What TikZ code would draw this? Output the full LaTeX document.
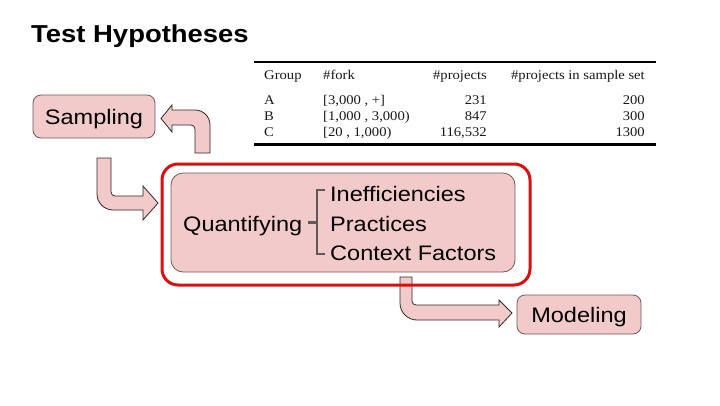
\documentclass[tikz,border=0pt]{standalone}
\usepackage{fontspec}
\setmainfont{Liberation Sans}[FakeStretch=1.12]
\newfontfamily\tabfont{Liberation Serif}[FakeStretch=1.1]
\definecolor{pinkfill}{RGB}{242,202,202}
\definecolor{boxline}{RGB}{110,90,90}
\definecolor{arrline}{RGB}{50,40,40}
\definecolor{framered}{RGB}{218,16,16}
\definecolor{bracegray}{RGB}{95,90,90}
\definecolor{tabtext}{RGB}{25,25,25}
\begin{document}
\begin{tikzpicture}[x=1pt,y=-1pt,
  box/.style={draw=boxline, line width=0.8pt, fill=pinkfill, rounded corners=8pt,
    font=\fontsize{21}{25}\selectfont, inner sep=0pt, text height=15pt, text depth=0pt},
  blockarrow/.style={draw=arrline, line width=0.8pt, fill=pinkfill, line join=miter},
  body/.style={font=\fontsize{21}{25}\selectfont, inner sep=0pt, anchor=base west},
  tabl/.style={font=\tabfont\fontsize{13.3}{15}\selectfont, text=tabtext, inner sep=0pt, anchor=base west},
  tabr/.style={font=\tabfont\fontsize{13.3}{15}\selectfont, text=tabtext, inner sep=0pt, anchor=base east},
  bracestyle/.style={draw=bracegray, line width=2.5pt},
  rulethin/.style={line width=1.2pt, draw=black},
  rulethick/.style={line width=3pt, draw=black}
  ]
\useasboundingbox (0,0) rectangle (720,405);
\fill[white] (0,0) rectangle (720,405);

% title
\node[anchor=base west, inner sep=0pt, font=\bfseries\fontsize{24.5}{28}\selectfont] (title) at (31,42) {Test Hypotheses};

% table
\draw[rulethin] (254,62) -- (656,62);
\draw[rulethick] (254,144) -- (656,144);
\node[tabl] (hgroup) at (264,79) {Group};
\node[tabl] (hfork) at (323,79) {\#fork};
\node[tabr] (hproj) at (487,79) {\#projects};
\node[tabr] (hsample) at (645,79) {\#projects in sample set};
\node[tabl] (ga) at (264,104) {A};
\node[tabl] (gb) at (264,120.5) {B};
\node[tabl] (gc) at (264,136.5) {C};
\node[tabl] (fa) at (323,104) {[3,000 , +]};
\node[tabl] (fb) at (323,120.5) {[1,000 , 3,000)};
\node[tabl] (fc) at (323,136.5) {[20 , 1,000)};
\node[tabr] (pa) at (487,104) {231};
\node[tabr] (pb) at (487,120.5) {847};
\node[tabr] (pc) at (487,136.5) {116,532};
\node[tabr] (sa) at (645,104) {200};
\node[tabr] (sb) at (645,120.5) {300};
\node[tabr] (sc) at (645,136.5) {1300};

% boxes
\node[box, minimum width=122pt, minimum height=43pt] (sampling) at (94,116.5) {Sampling};
\node[box, minimum width=124pt, minimum height=39pt] (modeling) at (579,314.5) {Modeling};
\node[box, rounded corners=12pt, minimum width=344pt, minimum height=99pt] (quantbox) at (343,222.5) {};

% block arrows
\draw[blockarrow] (195,153) -- (195,129) .. controls (195,126.8) and (193.2,125) .. (191,125)
  -- (172,125) -- (172,132) -- (161,118.5) -- (172,105) -- (172,110) -- (195,110)
  .. controls (203.3,110) and (210,116.7) .. (210,125) -- (210,153) -- cycle;
\draw[blockarrow] (97,158) -- (97,194) .. controls (97,202.8) and (104.2,210) .. (113,210)
  -- (143,210) -- (143,220) -- (158,203) -- (143,186) -- (143,196) -- (115,196)
  .. controls (112.8,196) and (111,194.2) .. (111,192) -- (111,158) -- cycle;
\draw[blockarrow] (400,277) -- (400,303) .. controls (400,312.4) and (407.6,320) .. (417,320)
  -- (499,320) -- (499,327) -- (512,313) -- (499,300) -- (499,305) -- (416,305)
  .. controls (413.8,305) and (412,303.2) .. (412,301) -- (412,277) -- cycle;

% red frame
\node[draw=framered, line width=3pt, rounded corners=16pt, minimum width=368pt,
  minimum height=121pt, inner sep=0pt] (frame) at (346,224.5) {};

% contents
\node[body] (quant) at (183,231) {Quantifying};
\node[body] (ineff) at (330,201.5) {Inefficiencies};
\node[body] (pract) at (330,231) {Practices};
\node[body] (context) at (330,260) {Context Factors};
\draw[bracestyle] (325,190) -- (317,190) -- (317,254) -- (325,254);
\draw[bracestyle] (308,222.5) -- (317,222.5);
\end{tikzpicture}
\end{document}
